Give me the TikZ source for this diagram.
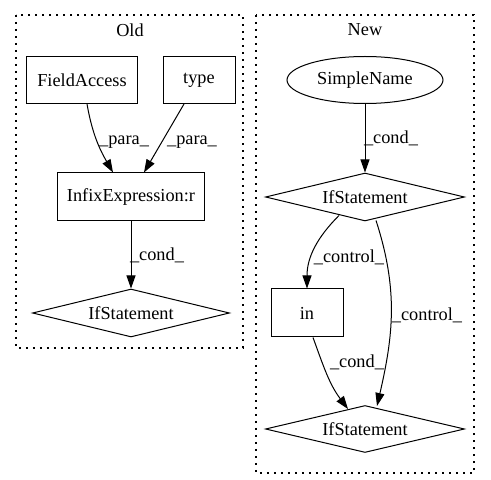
\documentclass[tikz,border=0pt]{standalone}
\usepackage{fontspec}
\setmainfont{Liberation Serif}
\usetikzlibrary{shapes.geometric,arrows.meta}
\begin{document}
\begin{tikzpicture}[x=1pt,y=1pt,
  font=\fontsize{18.3}{20}\selectfont,
  every node/.style={inner sep=0pt},
  box/.style={draw,line width=1pt,rectangle},
  dia/.style={draw,line width=1pt,diamond,aspect=4},
  ell/.style={draw,line width=1pt,ellipse},
  cluster/.style={line width=1.2pt,dash pattern=on 1.6pt off 5.4pt},
  arr/.style={line width=1pt,-{Triangle[length=13pt,width=9pt]}},
  lbl/.style={inner sep=0pt}]
\useasboundingbox (0,0) rectangle (491,480);
% clusters
\draw[cluster] (16,465) rectangle (243,132);
\node (told) at (130,450) {Old};
\draw[cluster] (256,465) rectangle (474,7);
\node (tnew) at (365,450) {New};
% Old nodes
\node[box,minimum width=111pt,minimum height=47pt] (fa) at (82,400) {FieldAccess};
\node[box,minimum width=72pt,minimum height=47pt] (ty) at (199,400) {type};
\node[box,minimum width=147pt,minimum height=48pt] (ie) at (131,283) {InfixExpression:r};
\node[dia,minimum width=197pt,minimum height=48pt] (if0) at (131,167) {IfStatement};
% New nodes
\node[ell,minimum width=156pt,minimum height=47pt] (sn) at (365,400) {SimpleName};
\node[dia,minimum width=199pt,minimum height=48pt] (if1) at (365,283) {IfStatement};
\node[box,minimum width=72pt,minimum height=48pt] (in) at (307,167) {in};
\node[dia,minimum width=199pt,minimum height=47pt] (if2) at (365,51) {IfStatement};
% Old edges
\draw[arr] ([xshift=5pt]fa.south) to[out=-80,in=120] ([xshift=-18pt]ie.north);
\draw[arr] ([xshift=-15pt]ty.south) -- ([xshift=13pt]ie.north);
\draw[arr] (ie.south) -- (if0.north);
\node[lbl] (l1) at (124,338) {\_para\_};
\node[lbl] (l2) at (192,338) {\_para\_};
\node[lbl] (l3) at (157,225) {\_cond\_};
% New edges
\draw[arr] (sn.south) -- (if1.north);
\draw[arr] ([xshift=-26pt,yshift=6pt]if1.south) to[out=225,in=90] (in.north);
\draw[arr] ([xshift=11pt,yshift=1pt]if1.south) to[out=-72,in=77] ([xshift=12pt,yshift=-1pt]if2.north);
\draw[arr] ([xshift=6pt]in.south) to[out=-70,in=127] ([xshift=-17pt,yshift=-4pt]if2.north);
\node[lbl] (l4) at (391,342) {\_cond\_};
\node[lbl] (l5) at (349,223) {\_control\_};
\node[lbl] (l6) at (427,165) {\_control\_};
\node[lbl] (l7) at (357,118) {\_cond\_};
\end{tikzpicture}
\end{document}
